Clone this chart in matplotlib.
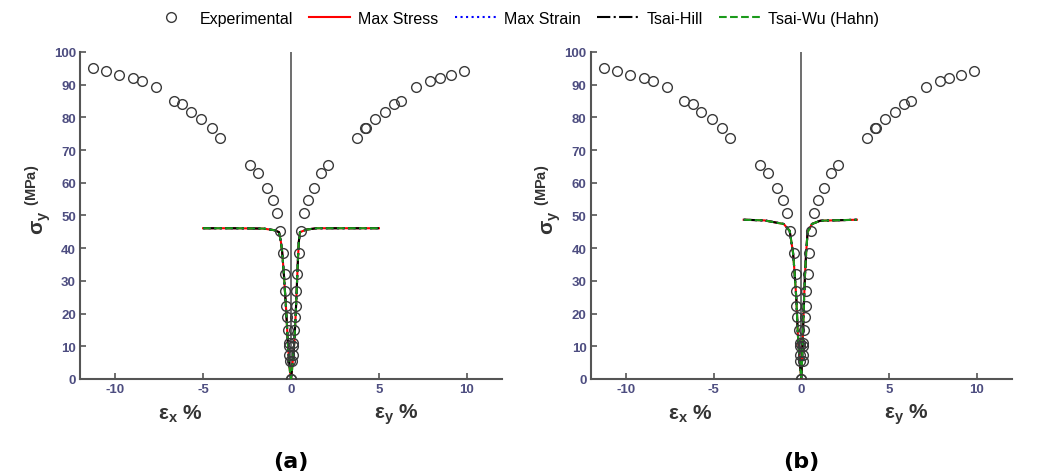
import numpy as np
import matplotlib
matplotlib.use('Agg')
import matplotlib.pyplot as plt
from matplotlib import rc

rc('font', **{'family': 'sans-serif', 'sans-serif': ['Liberation Sans', 'DejaVu Sans']})
rc('mathtext', fontset='custom', rm='Liberation Sans', bf='Liberation Sans:bold', it='Liberation Sans:italic')
rc('axes', unicode_minus=False)

# experimental data, eps_x side (negative) and eps_y side (positive)
exp_ex = [-11.27, -10.52, -9.78, -8.96, -8.47, -7.65, -6.67, -6.19, -5.70, -5.11, -4.50, -4.05,
          -2.35, -1.88, -1.39, -1.03, -0.82,
          -0.63, -0.44, -0.32, -0.32, -0.28, -0.25, -0.15, -0.10, -0.10, -0.10, -0.08, 0.0]
exp_ex_s = [95.1, 94.2, 93.1, 92.1, 91.2, 89.2, 85.0, 84.1, 81.7, 79.6, 76.8, 73.7,
            65.4, 63.0, 58.3, 54.7, 50.7,
            45.2, 38.5, 32.2, 26.9, 22.2, 18.9, 15.1, 11.0, 10.2, 7.3, 5.6, 0.0]
exp_ey = [0.74, 0.97, 1.29, 1.71, 2.09, 3.76, 4.20, 4.25, 4.77, 5.37, 5.83, 6.25, 7.12, 7.92,
          8.45, 9.08, 9.84,
          0.55, 0.44, 0.36, 0.28, 0.27, 0.23, 0.17, 0.11, 0.11, 0.10, 0.08, 0.0]
exp_ey_s = [50.7, 54.7, 58.3, 63.0, 65.4, 73.7, 76.8, 76.8, 79.6, 81.7, 84.1, 85.0, 89.2, 91.2,
            92.1, 93.1, 94.2,
            45.2, 38.5, 32.2, 26.9, 22.2, 18.9, 15.1, 11.0, 10.2, 7.3, 5.6, 0.0]

# predicted curves (all four criteria overlap), panel (a)
curve_a_x = [-5.0, -3.28, -1.57, -0.95, -0.68, -0.57, -0.50, -0.40, -0.28, -0.19, -0.10, 0.0,
             0.08, 0.19, 0.28, 0.38, 0.44, 0.51, 0.89, 1.46, 5.0]
curve_a_y = [46.1, 46.1, 46.0, 45.5, 44.9, 41.8, 38.7, 31.6, 21.4, 12.2, 4.1, 0.0,
             4.1, 11.2, 21.4, 34.7, 41.8, 44.9, 45.7, 46.1, 46.1]

# panel (b)
curve_b_x = [-3.28, -2.10, -1.00, -0.66, -0.47, -0.38, -0.28, -0.20, -0.10, 0.0,
             0.05, 0.10, 0.16, 0.22, 0.28, 0.36, 0.61, 1.08, 3.17]
curve_b_y = [48.7, 48.5, 47.4, 45.3, 38.7, 32.6, 24.5, 14.3, 6.1, 0.0,
             6.1, 14.3, 24.5, 32.6, 38.7, 44.9, 47.4, 48.4, 48.7]

criteria = ['Max Stress', 'Max Strain', 'Tsai-Hill', 'Tsai-Wu (Hahn)']
styles = [('#ff0000', '-'), ('#0000ff', ':'), ('#000000', '-.'), ('#1a9a1a', '--')]

tick_col = '#4d4d80'
axis_col = '#555555'


def panel(ax, cx, cy, tag):
    lines = []
    l, = ax.plot(exp_ex + exp_ey, exp_ex_s + exp_ey_s, 'o', mfc='none', mec='#3a3a3a',
                 mew=1.0, ms=7, ls='none', label='Experimental', zorder=4)
    lines.append(l)
    for name, (c, ls) in zip(criteria, styles):
        l, = ax.plot(cx, cy, color=c, ls=ls, lw=1.5, label=name, zorder=3)
        lines.append(l)
    ax.plot([0, 0], [0, 100], color=axis_col, lw=1.2, zorder=2)
    ax.set_xlim(-12, 12)
    ax.set_ylim(0, 100)
    ax.set_xticks([-10, -5, 0, 5, 10])
    ax.set_yticks(np.arange(0, 101, 10))
    for s in ['top', 'right']:
        ax.spines[s].set_visible(False)
    for s in ['left', 'bottom']:
        ax.spines[s].set_color(axis_col)
        ax.spines[s].set_linewidth(1.5)
    ax.tick_params(direction='in', length=4, width=1.2, color=axis_col,
                   labelcolor=tick_col, labelsize=9.5, pad=3)
    for t in ax.get_xticklabels() + ax.get_yticklabels():
        t.set_fontweight('bold')
    ax.text(-6.3, -10.5, r'ε$_\mathbf{x}$ %', ha='center', va='center', fontsize=15,
            fontweight='bold', color='#333333')
    ax.text(6.0, -10.5, r'ε$_\mathbf{y}$ %', ha='center', va='center', fontsize=15,
            fontweight='bold', color='#333333')
    ax.text(-0.1, 0.55, r'σ$_\mathbf{y}$ $^\mathbf{(MPa)}$', transform=ax.transAxes,
            rotation=90, ha='center', va='center', fontsize=15, fontweight='bold',
            color='#333333')
    ax.text(0.0, -25, tag, ha='center', va='center', fontsize=16, fontweight='heavy',
            family='DejaVu Sans', color='black')
    return lines


fig = plt.figure(figsize=(10.5, 4.77), dpi=100)
ax1 = fig.add_axes([0.0762, 0.2034, 0.4019, 0.6855])
ax2 = fig.add_axes([0.5626, 0.2034, 0.4010, 0.6855])

handles = panel(ax1, curve_a_x, curve_a_y, '(a)')
panel(ax2, curve_b_x, curve_b_y, '(b)')

fig.legend(handles=handles, loc='upper center', bbox_to_anchor=(0.49, 1.005), ncol=5,
           frameon=False, fontsize=11.5, handlelength=2.6, columnspacing=1.0,
           handletextpad=0.5)

plt.savefig('out.png', dpi=100)
